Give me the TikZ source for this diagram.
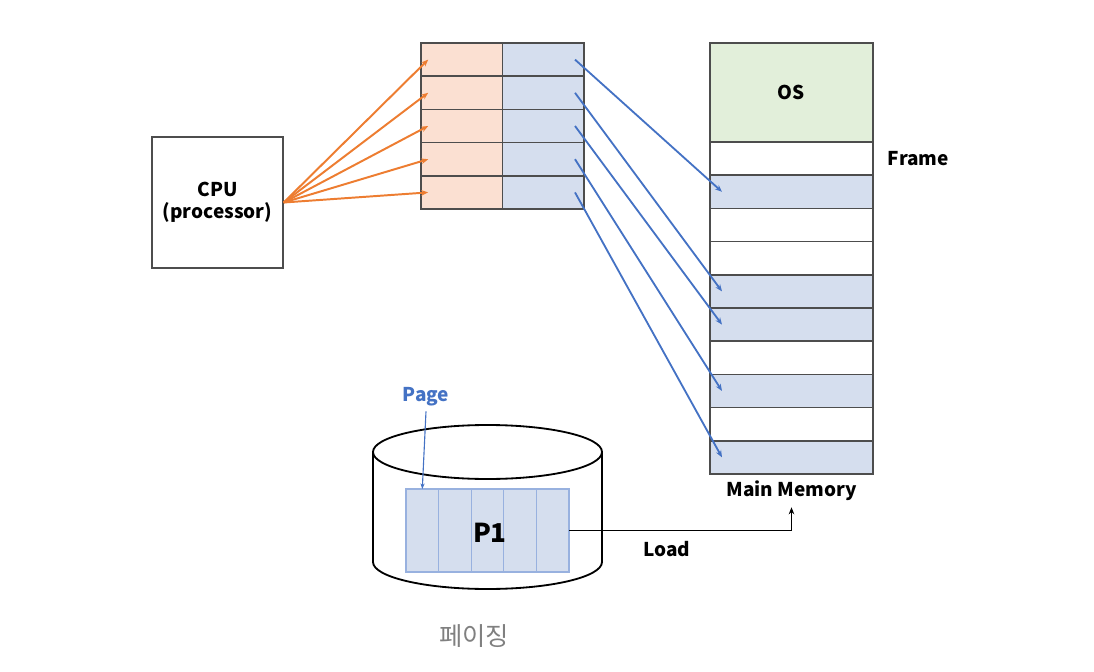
\documentclass[tikz,border=0pt]{standalone}
\usepackage{fontspec}
\setmainfont{Noto Sans CJK KR}
\usetikzlibrary{arrows.meta,calc,positioning}
\definecolor{pageorange}{HTML}{FBE0D2}
\definecolor{pageblue}{HTML}{D5DEEE}
\definecolor{osgreen}{HTML}{E2EFDA}
\definecolor{arroworange}{HTML}{ED7D31}
\definecolor{arrowblue}{HTML}{4472C4}
\definecolor{boxgray}{HTML}{4D4D4D}
\def\lblfont{\bfseries\fontsize{13.5}{16}\selectfont}

\begin{document}
\begin{tikzpicture}[
    cell/.style={draw=boxgray, line width=1pt, minimum width=2.0375cm, minimum height=0.83cm, inner sep=0pt, outer sep=0pt},
    memcell/.style={draw=boxgray, line width=1pt, minimum width=4.075cm, minimum height=0.83cm, inner sep=0pt, outer sep=0pt},
    pagecell/.style={draw=arrowblue!55, line width=0.8pt, fill=pageblue, minimum width=0.815cm, minimum height=2.075cm, inner sep=0pt, outer sep=0pt},
    cpuarrow/.style={arroworange, line width=1.4pt, -{Stealth[length=5pt,width=4pt]}},
    memarrow/.style={arrowblue, line width=1.3pt, -{Stealth[length=5pt,width=4pt]}},
    disk/.style={black, line width=1.3pt},
    label/.style={font=\lblfont}
  ]
  %%%%% START %%%%%
  \useasboundingbox (0,0) rectangle (27.35,-16.8);

  % CPU
  \node[draw=boxgray, line width=1pt, minimum width=3.275cm, minimum height=3.275cm, align=center, font=\lblfont] (cpu) at (5.4375,-5.0625) {CPU\\(processor)};

  % page table
  \foreach \i in {1,...,5}{
    \node[cell, fill=pageorange] (pl\i) at (11.54375, {-1.49-0.83*(\i-1)}) {};
    \node[cell, fill=pageblue] (pr\i) at (13.58125, {-1.49-0.83*(\i-1)}) {};
  }

  % main memory
  \node[memcell, fill=osgreen, minimum height=2.475cm, font=\lblfont] (os) at (19.7875,-2.3125) {OS};
  \foreach \j/\c in {1/white,2/pageblue,3/white,4/white,5/pageblue,6/pageblue,7/white,8/pageblue,9/white,10/pageblue}
    \node[memcell, fill=\c] (m\j) at (19.7875, {-3.965-0.83*(\j-1)}) {};
  \node[label, anchor=west, right=0.25cm of m1] (framelbl) {Frame};
  \node[label] (mmlbl) at (19.7875,-12.275) {Main Memory};

  % arrows
  \foreach \i in {1,...,5}
    \draw[cpuarrow] (cpu.east) -- ($(pl\i.west)+(0.18,0)$);
  \foreach \i/\j in {1/2,2/5,3/6,4/8,5/10}
    \draw[memarrow] ($(pr\i.east)+(-0.225,0)$) -- ($(m\j.west)+(0.3,0)$);

  % disk
  \draw[disk] (9.325,-11.3) -- (9.325,-14.05) arc[start angle=180, end angle=360, x radius=2.8625, y radius=0.675] -- (15.05,-11.3);
  \draw[disk] (12.1875,-11.3) ellipse [x radius=2.8625, y radius=0.675];
  \foreach \k in {1,...,5}
    \node[pagecell] (pg\k) at ({10.15+0.815*(\k-0.5)}, -13.2625) {};
  \node[font=\bfseries\fontsize{18.5}{21}\selectfont] (p1lbl) at ($(pg3)+(0.06,-0.05)$) {P1};

  \node[label, text=arrowblue] (pagelbl) at (10.65,-9.925) {Page};
  \draw[arrowblue, line width=0.8pt, -{Stealth[length=4pt,width=3pt]}] (pagelbl.south) -- (pg1.north);

  % load
  \draw[black, line width=1.4pt, -{Stealth[length=5pt,width=4pt]}, shorten >=1pt] (pg5.east) -| (mmlbl.south);
  \node[label] (loadlbl) at (16.675,-13.725) {Load};

  \node[text=gray, font=\fontsize{18}{21}\selectfont] (caption) at (11.85,-15.9) {페이징};
  %%%%% END %%%%%
\end{tikzpicture}
\end{document}
